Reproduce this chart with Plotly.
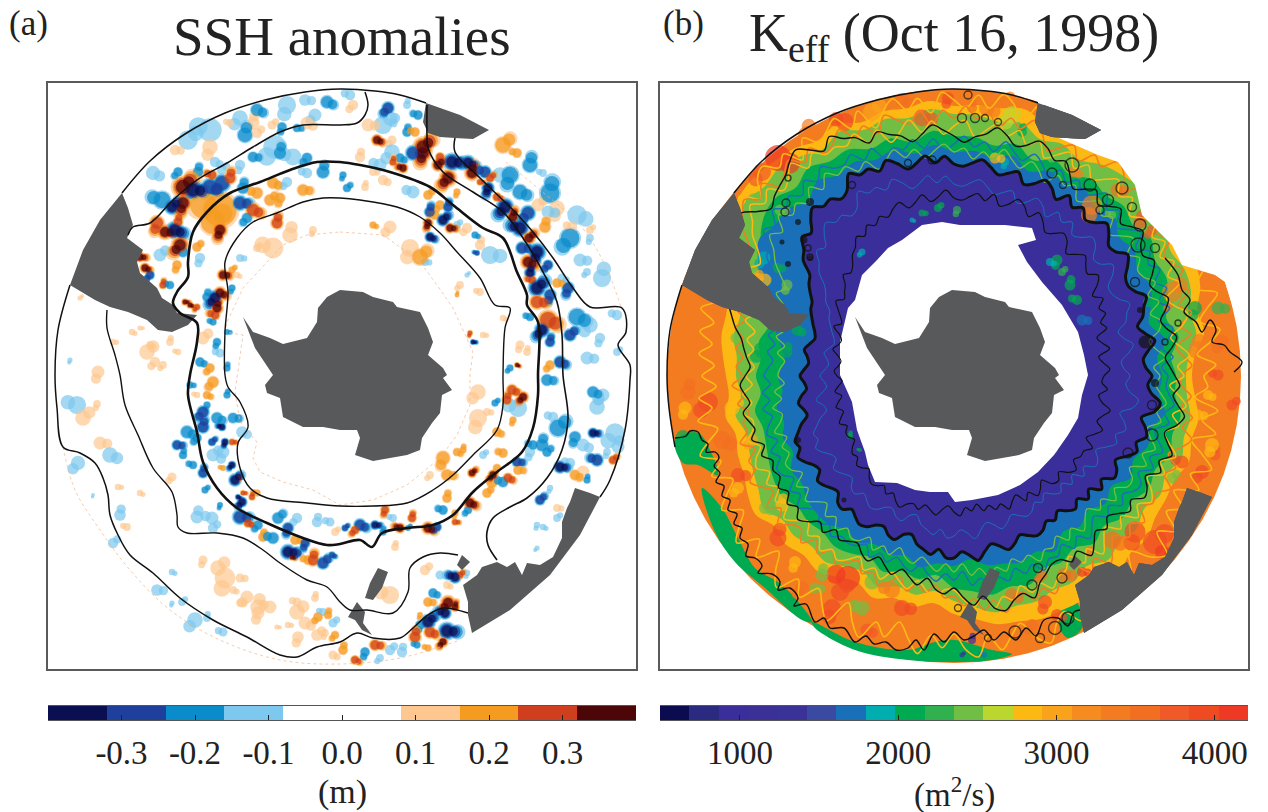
import math
import plotly.graph_objects as go

# ---------- map units: both panels share one x/y system (hidden axes) ----------
CX, CY = 342, 376

# ---------- colour scales ----------
SSH_EDGES = [-0.4, -0.32, -0.24, -0.16, -0.08, 0.0, 0.08, 0.16, 0.24, 0.32, 0.4]
SSH_COLORS = ["#0a0f52", "#1f3f9c", "#0a8ccb", "#7cc8ee", "#ffffff", "#ffffff", "#fdc78f", "#f59b1f", "#cf3f1e", "#4d0608"]
SSH_TICKS = [-0.3, -0.2, -0.1, 0.0, 0.1, 0.2, 0.3]
SSH_TICKTEXT = ["-0.3", "-0.2", "-0.1", "0.0", "0.1", "0.2", "0.3"]
SSH_LEVELS = [0.12, 0.20, 0.28, 0.36]
LAYER_SCALE = [1.0, 0.85, 0.72, 0.58]
LOBES = [(.45,.2),(-.35,.4),(.1,-.5),(-.5,-.15),(.4,-.35),(-.15,.5),(.55,.05)]

K_MIN, K_MAX = 495, 4210
K_COLORS = ["#0b0b4f", "#2a2a80", "#3a2f9a", "#3a3096", "#3a3296", "#3a4aa0", "#1a70b8", "#00aeb0", "#00aa50", "#30b04e",
            "#70bf44", "#bcd630", "#fdb913", "#f9a21b", "#f68b1f", "#f47c20", "#f26f21", "#f05a28", "#ef4b23", "#ee3a24"]
K_TICKS = [1000, 2000, 3000, 4000]

# ---------- coast / land outlines ----------
ANTARCTICA = [(243,317),(253,332),(270,338),(283,344),(307,338),(317,322),(318,308),(327,297),(340,290),(363,292),(373,297),
              (393,302),(397,307),(420,312),(428,328),(433,342),(428,355),(443,368),(447,375),(443,378),(452,390),(442,395),
              (440,413),(432,423),(422,438),(420,450),(407,455),(373,461),(355,455),(360,438),(357,430),(340,430),(323,427),
              (303,427),(283,417),(280,398),(267,393),(265,385),(273,375),(262,358),(255,348)]
LAND_WEST = [(122,193),(100,220),(83,250),(70,285),(95,300),(110,307),(128,312),(147,320),(158,330),(172,332),(188,325),
             (197,315),(177,313),(173,305),(162,298),(157,288),(140,273),(137,262),(143,250),(127,238),(133,225),(128,208)]
LAND_NORTH = [(426,103),(460,115),(489,130),(473,139),(455,138),(440,137),(428,133),(423,122)]
LAND_SE = [(472,633),(468,615),(468,602),(463,585),(477,575),(482,567),(497,562),(507,567),(515,562),(522,575),(527,563),
           (540,565),(553,557),(562,538),(562,522),(567,508),(570,502),(575,488),(590,493),(600,497),(580,535),(550,575),(510,610)]
ISLE_A = [(378,568),(388,572),(382,588),(373,600),(365,598),(370,583)]
ISLE_B = [(357,602),(365,612),(363,623),(372,635),(362,630),(355,620),(348,617)]
ISLE_C = [(462,555),(470,562),(462,570),(457,565)]
LANDS = [ANTARCTICA, LAND_WEST, LAND_NORTH, LAND_SE, ISLE_A, ISLE_B, ISLE_C]

# ---------- panel (a): SSH contours ----------
A_ARC = [(122,193),(150,161),(185,134),(225,113),(265,100),(305,92),(340,89),(375,91),(400,95),(426,103)]
A_OUTER = [(70,285),(58,330),(55,375),(57,408),(63,447),(80,453),(95,463),(103,478),(108,495),(110,515),(118,535),(130,555),
           (153,573),(180,598),(213,620),(247,637),(280,655),(297,657),(317,647),(340,642),(357,633),(373,638),(400,638),
           (413,628),(428,615),(443,608),(468,613)]
A_SECOND = [(107,310),(107,328),(115,355),(120,375),(125,405),(138,435),(153,468),(172,492),(177,515),(178,527),(187,533),
            (217,533),(243,538),(263,550),(280,563),(307,580),(327,587),(340,602),(350,610),(367,610),(393,613),(408,592),
            (410,568),(423,557),(440,553),(458,555)]
A_TOP = [(128,235),(133,227),(150,223),(173,200),(197,180),(227,163),(253,147),(280,132),(303,125),(340,125),(357,123),
         (365,115),(368,105),(365,92)]
A_RIGHT = [(455,138),(455,152),(480,178),(513,210),(533,232),(553,258),(573,288),(590,307),(622,308),(626,332),(618,345),
           (630,365),(630,380),(625,430),(610,480),(600,497)]
A_MIDDLE = [(427,105),(427,135),(428,148),(443,172),(473,192),(503,212),(523,238),(543,272),(557,302),(562,335),(563,375),
            (568,418),(562,450),(547,478),(527,498),(510,507),(493,518),(487,532),(488,545),(497,560)]
A_THICK = [(340,162),(317,162),(290,170),(260,182),(230,193),(207,212),(193,232),(188,262),(188,277),(177,292),(173,303),
           (180,313),(197,323),(197,342),(190,375),(188,395),(197,432),(203,462),(217,488),(237,508),(267,523),(303,538),
           (327,545),(340,544),(360,540),(372,547),(382,533),(407,528),(433,525),(453,515),(473,492),(497,472),(522,452),
           (533,428),(538,395),(538,375),(538,322),(527,305),(527,295),(517,272),(503,238),(483,228),(453,205),(430,187),
           (390,172),(360,165),(340,162)]
A_INNER = [(340,198),(360,200),(397,207),(420,217),(440,233),(457,252),(480,278),(495,305),(510,308),(505,328),(503,375),
           (503,405),(497,430),(473,455),(453,475),(433,490),(407,503),(373,506),(340,506),(307,503),(267,498),(250,488),
           (240,468),(238,443),(248,427),(240,402),(228,387),(225,375),(225,332),(228,292),(225,262),(237,238),(253,222),
           (277,213),(303,202),(323,198),(340,198)]
A_PEACH = [(340,232),(383,235),(397,245),(420,262),(437,285),(453,308),(473,352),(470,375),(470,405),(457,435),(440,458),
           (407,485),(373,500),(340,505),(313,490),(283,482),(260,472),(253,458),(257,442),(240,422),(235,392),(243,335),
           (225,332),(227,322),(243,288),(283,245),(307,235),(340,232)]
A_PEACH_RIM = [(63,447),(75,490),(100,530),(130,570),(170,610),(220,640),(280,660),(340,664),(400,658),(460,640)]
A_PEACH_RIM2 = [(506,162),(540,190),(580,225),(605,265),(622,310)]

# ---------- panel (a): SSH anomaly eddies: x, y, value (m), width ----------
SSH_EDDIES = [
 (257,110,-.24,11),(240,118,-.12,12),(245,135,-.2,13),(210,130,-.12,18),(188,140,-.12,15),(287,105,-.12,14),(305,100,-.12,9),
 (327,102,-.2,11),(315,115,-.12,10),(253,123,.12,10),(230,123,.12,6),(272,125,.12,7),(282,127,-.2,8),(297,128,-.2,7),(307,123,.12,10),
 (275,147,-.12,18),(280,153,-.2,11),(293,157,-.12,13),(257,133,.12,8),(210,147,.12,12),(175,150,.12,8),(153,173,-.12,11),(178,172,-.2,8),
 (198,172,-.24,9),(212,175,.3,9),(222,170,-.12,8),(240,165,-.12,8),(253,157,-.2,9),(215,162,-.12,8),(307,158,-.2,9),(323,172,-.2,11),(307,173,-.12,8),
 (183,187,.36,19),(183,203,.36,15),(193,190,-.36,17),(210,187,-.3,15),(222,183,-.3,15),(230,178,.3,11),(162,200,-.24,15),(172,207,-.36,13),
 (157,223,.3,13),(165,232,.36,13),(175,230,-.36,15),(180,245,.36,15),(178,222,.28,9),(220,210,.2,30),(213,222,.2,22),(220,230,.36,13),
 (240,203,-.28,13),(253,210,.3,13),(247,218,-.2,9),(277,223,.3,11),(257,193,.2,10),(270,200,.2,10),(280,198,.2,9),(303,190,.2,10),
 (273,183,.2,10),(287,182,-.12,8),(243,188,-.2,10),(183,252,-.24,9),(197,247,.2,8),(200,258,-.12,8),(140,257,.36,9),(145,268,.36,9),
 (150,275,-.3,8),(163,285,.28,7),(170,285,-.2,7),(160,255,-.12,10),(177,265,.2,8),(223,275,.36,10),(220,293,.36,11),(215,298,-.36,13),
 (217,308,.36,11),(215,315,.28,9),(232,270,.2,6),(232,288,-.2,6),(185,302,.36,6),(190,305,.36,6),(197,307,.3,6),(207,297,-.2,8),
 (213,322,-.2,6),(203,338,.12,10),(217,342,-.2,7),(227,332,-.2,5),(200,362,-.2,8),(210,368,.2,8),(227,368,-.2,6),(220,353,-.12,7),
 (147,352,.12,12),(98,372,.12,10),(113,342,.12,5),(132,332,.12,5),(155,362,.12,8),(170,342,.12,6),(178,352,.12,5),(80,298,.12,4),(70,360,-.12,4),
 (140,328,.12,4),(150,345,.12,6),(163,365,.12,6),(290,235,.12,12),(273,248,.12,16),(257,248,.12,6),(313,230,.12,6),(240,258,-.12,6),(237,275,.12,5),
 (388,108,-.28,11),(407,105,-.12,6),(418,115,-.2,8),(383,125,-.12,14),(395,118,-.12,8),(368,125,.12,10),(377,140,.36,10),(392,140,.12,7),
 (407,132,-.2,8),(415,132,.2,8),(423,147,.36,17),(423,153,.36,15),(413,153,-.28,13),(400,158,-.2,8),(392,152,-.12,12),(393,162,.28,7),
 (403,168,.36,9),(438,165,.36,11),(440,157,.28,8),(452,162,-.36,15),(468,163,-.36,13),(448,178,.36,15),(472,173,.36,13),(485,172,-.3,11),
 (490,178,.28,8),(488,188,-.36,11),(480,182,.3,6),(497,197,.3,8),(505,207,-.36,15),(513,217,.36,11),(520,228,-.36,15),(529,238,.36,11),
 (537,252,-.36,15),(522,248,-.28,11),(528,262,.36,13),(548,265,-.3,9),(530,273,-.36,10),(532,280,.28,8),(537,288,-.36,15),(550,295,-.3,11),
 (537,302,.28,13),(548,320,.28,17),(542,330,-.36,13),(550,342,-.3,9),(530,317,-.2,7),(570,335,-.28,11),(568,288,-.28,11),(557,283,.2,8),
 (577,317,-.2,15),(590,325,-.12,12),(530,165,-.2,13),(517,153,.2,8),(503,145,.2,14),(510,175,-.2,15),(500,175,-.12,12),(520,192,-.2,13),
 (528,213,-.28,13),(550,193,-.2,17),(543,173,-.12,6),(538,205,.12,10),(557,208,.12,12),(548,212,-.12,10),(577,215,-.12,15),(570,238,-.2,17),
 (545,227,.2,10),(572,227,.12,8),(590,230,.12,6),(590,238,-.12,6),(580,260,-.12,10),(562,278,-.12,7),(587,272,-.12,6),(602,278,-.12,14),
 (617,315,-.12,8),(617,352,-.12,6),(600,338,-.12,8),(587,358,-.12,10),(560,362,-.28,11),(550,365,.2,8),
 (430,212,-.28,10),(435,215,.2,8),(443,220,-.36,11),(428,223,.36,9),(450,228,.36,9),(430,237,-.36,9),(440,205,.2,8),(448,207,-.28,9),
 (413,192,-.12,10),(428,195,.2,8),(457,192,.2,6),(490,255,-.12,14),(475,235,-.2,6),(467,228,.12,8),(480,245,.12,8),(477,253,-.3,5),
 (420,257,.2,14),(410,248,.12,14),(425,262,-.12,6),(373,225,.2,6),(390,227,.12,10),(360,157,.12,8),(350,95,-.12,8),(347,188,-.2,7),
 (343,175,-.2,6),(373,172,.12,6),(383,180,.12,8),(353,105,.12,8),(365,187,.12,6),(380,165,-.12,10),(457,225,-.12,6),(470,333,.28,5),
 (473,342,-.36,5),(503,318,.12,5),(460,285,.12,6),(457,295,.2,4),(480,292,.12,6),(467,275,-.12,4),(520,345,.12,7),(483,335,.12,5),
 (517,365,.36,5),(510,368,-.2,6),(527,352,.12,6),
 (77,405,-.12,14),(83,418,.12,12),(97,404,.12,6),(100,443,.12,10),(110,455,-.12,12),(78,463,-.12,11),(120,515,-.12,9),(127,527,.12,6),
 (113,543,-.12,8),(93,495,-.12,3),(157,590,-.12,9),(172,572,-.12,5),(195,620,-.12,12),(207,618,-.12,6),(223,632,-.12,7),(182,602,-.12,6),
 (172,603,-.12,4),(118,487,.12,5),(140,493,.12,5),(172,477,.12,7),(197,517,-.12,10),(212,518,-.12,10),(213,528,-.12,8),(203,560,.12,7),
 (177,445,-.28,9),(187,432,-.2,11),(203,412,-.3,11),(203,427,-.28,11),(222,427,-.36,7),(212,442,-.28,7),(225,442,-.36,7),(233,418,-.2,9),
 (217,418,-.2,10),(197,438,-.2,8),(183,455,-.2,7),(193,465,-.24,7),(213,455,-.12,10),(223,452,-.12,10),(232,442,.28,6),(242,432,-.12,9),
 (232,465,-.36,7),(203,473,-.28,9),(223,468,.2,5),(235,480,-.36,11),(240,477,.28,5),(243,493,.28,5),(238,497,-.36,5),(242,502,-.36,9),
 (252,497,.28,6),(257,493,.2,6),(205,490,-.2,6),(220,505,-.2,5),(240,517,-.3,13),(248,523,.28,8),(258,525,-.2,8),(263,537,.2,8),
 (273,538,-.2,10),(278,518,-.2,10),(288,528,-.28,10),(288,552,-.36,13),(292,557,.36,6),(298,553,-.3,7),(313,560,.3,11),(308,560,.2,8),
 (323,563,-.3,11),(305,543,-.3,9),(295,540,.2,8),(332,555,-.28,6),(297,518,-.12,8),(317,522,-.12,8),(330,522,-.12,7),(335,532,.12,6),
 (207,405,-.2,6),(190,385,-.2,6),(207,395,.2,7),(213,382,.2,10),(227,395,-.2,6),(197,395,.12,5),
 (218,568,.12,12),(225,578,.12,16),(240,578,.12,7),(233,590,.12,6),(247,597,.12,10),(258,607,.12,12),(270,607,.12,10),(297,612,.12,12),
 (258,613,.12,10),(240,603,.12,6),(305,623,.12,10),(318,617,.2,8),(328,615,.2,7),(323,612,-.12,6),(317,635,.12,9),(298,637,.12,9),
 (288,625,.12,5),(333,655,.12,7),(335,635,.2,7),(315,598,.12,6),(297,602,.12,7),(333,623,-.12,7),(325,633,.12,6),(277,627,.12,4),
 (512,390,.28,10),(523,397,.36,10),(507,400,.28,9),(518,408,-.12,14),(495,403,-.2,6),(513,420,.2,6),(547,380,-.2,10),(593,392,-.2,10),
 (603,395,-.12,10),(597,407,-.12,12),(553,417,-.12,8),(558,428,-.2,15),(575,437,-.2,10),(593,433,-.36,9),(583,445,-.12,10),(615,433,-.12,15),
 (618,447,-.12,10),(597,460,-.28,11),(613,460,.3,8),(607,452,-.12,6),(560,467,-.36,11),(575,475,.2,9),(583,472,.12,10),(587,480,-.2,6),
 (570,463,-.12,8),(540,500,-.28,9),(550,488,-.12,5),(557,508,.12,6),(543,527,-.12,5),(537,548,-.12,4),(542,445,-.2,11),(533,445,-.2,8),
 (547,452,-.2,8),(530,452,-.12,8),(517,462,-.28,9),(508,478,.28,9),(493,475,.36,9),(492,482,.2,10),(503,482,-.2,9),(472,473,.36,8),
 (497,468,.2,7),(518,470,.2,8),(470,503,.36,11),(468,510,-.24,7),(447,498,.2,8),(443,510,-.2,8),(487,493,.2,8),(455,513,.2,6),(455,522,.28,6),
 (428,528,.36,11),(437,527,-.28,8),(412,518,.28,8),(400,528,.36,9),(408,528,-.2,5),(385,510,.28,8),(375,525,-.36,8),(360,525,-.3,11),
 (355,530,.28,8),(383,532,-.2,6),(393,518,-.12,6),(345,528,-.28,6),(443,458,.2,12),(447,475,.2,10),(457,452,.2,7),(430,475,.12,6),
 (463,450,.2,6),(503,453,.2,8),(483,455,-.12,6),(478,418,.12,14),(487,412,.12,6),(497,432,.2,8),(478,392,.12,12),(395,547,.12,6),
 (390,595,.12,14),(425,570,.12,8),(420,615,.2,5),(428,602,.2,8),(433,593,-.2,8),(448,603,.36,13),(455,607,.36,8),(445,613,-.36,11),
 (428,622,-.36,13),(420,625,-.2,8),(447,631,-.38,15),(430,632,.3,11),(443,642,.36,9),(415,637,.28,11),(455,577,-.36,11),(460,575,.3,7),
 (467,573,-.12,5),(440,575,-.12,7),(447,585,.12,6),(435,633,.12,6),(402,652,-.12,8),(417,645,-.2,6),(390,650,-.12,8),(365,652,-.2,8),
 (375,645,.28,10),(355,660,.28,8),(380,658,-.12,6),(343,650,.2,8),(428,648,.2,6),(557,518,-.12,6),(537,525,-.12,5),
]

# ---------- panel (b): K_eff band limits, radii at equal angles, anticlockwise from east ----------
R_TEAL = [208,204,214,202,210,216,212,220,216,226,220,228, 222,226,218,228,222,226,224,232,226,234,230,236,
          232,238,228,236,234,238,226,214,196,186,176,170, 176,172,180,176,182,178,188,186,192,194,194,188,
          192,186,190,186,194,188,190,184,192,194,198,194, 202,190,196,190,198,192,204,198,206,204,214,206]
R_GREEN = [222,218,228,220,228,234,232,240,234,240,236,240, 232,238,230,240,234,240,240,246,238,246,242,250,
           248,254,246,252,248,236,216,206,198,192,198,194, 198,194,202,198,200,204,208,210,204,206,204,208,
           205,200,208,202,206,200,212,216,222,218,222,212, 215,210,218,212,220,218,225,222,230,226,230,222]
R_LIME = [232,236,246,244,252,254,250,258,256,264,262,258, 250,256,252,262,258,262,262,268,262,266,262,270,
          262,268,272,268,272,262,250,240,226,222,224,218, 218,214,222,216,218,222,226,232,224,226,222,226,
          220,216,224,218,222,216,225,232,240,238,240,236, 238,232,240,234,238,232,238,234,242,238,240,234]
R_YELLOW = [238,242,254,252,262,266,262,270,272,276,278,272, 270,276,268,276,272,272,270,276,272,274,270,278,
            272,278,280,282,280,276,270,258,240,236,236,232, 228,226,232,226,230,232,238,242,234,238,234,238,
            232,228,236,230,234,228,238,244,252,254,258,258, 258,252,256,250,252,246,245,244,250,246,248,242]
R_RIM = [287]*72
R_THICK = [198,192,190,196,204,196,190,198,202,208,200,196, 198,206,212,204,202,210,216,208,204,212,206,214,
           204,212,216,208,204,214,210,206,212,218,214,210, 212,220,214,222,216,212,220,226,218,224,222,228,
           214,210,216,214,220,212,202,206,196,190,176,172, 166,160,158,154,150,146,144,148,152,148,146,150,
           154,150,148,154,158,154,152,160,166,172,170,176, 172,166,164,172,170,166,164,172,174,168,172,176,
           174,168,166,172,174,166,164,172,176,180,174,182, 182,176,180,186,178,172,176,182,178,172,176,180,
           178,172,176,170,176,180,174,182,176,186,180,190, 188,182,190,198,194,202,198,192,204,208,198,194]
R_MID = [221,216,212,220,226,218,214,222,228,220,216,224, 231,224,228,238,232,226,236,230,224,234,228,222,
         232,242,238,246,250,242,238,246,252,244,240,234, 240,246,252,244,238,246,250,256,248,258,262,270,
         260,268,276,270,262,258,254,248,256,268,272,264, 262,256,250,244,240,236,230,224,216,212,208,204,
         209,214,210,206,214,210,206,212,202,208,200,204, 201,208,202,210,204,212,206,198,204,194,200,196,
         193,200,204,196,202,208,200,206,212,204,214,218, 212,222,230,222,236,240,232,228,236,224,218,212,
         212,220,214,226,218,210,216,208,214,222,216,226, 223,216,228,222,232,224,218,228,234,226,220,226]
R_INNER = [150,156,150,146,158,152,148,160,156,164,160,168, 160,170,176,168,172,178,172,166,176,180,174,170,
           178,184,176,184,188,180,176,186,178,184,180,176, 178,186,180,176,184,178,174,182,178,172,176,170,
           174,166,170,162,158,150,146,150,142,138,134,140, 134,128,124,130,122,118,120,124,118,114,116,120,
           117,112,116,120,114,118,122,116,120,124,118,122, 122,118,124,128,126,132,130,126,132,136,134,130,
           136,132,138,142,136,134,138,132,136,140,134,130, 136,140,132,136,130,138,134,140,136,144,138,134,
           144,138,146,142,136,146,148,142,150,154,146,150, 150,156,146,152,158,150,154,160,150,146,154,148]
# filaments threaded through the bands
F_YELLOW_OUT = [250,262,244,258,270,252,262,276,256,268,282,262, 274,258,280,266,284,270,262,280,268,284,272,264,
                276,284,266,280,272,284,262,278,286,270,282,268, 276,284,264,280,270,284,274,260,282,268,284,276,
                270,282,264,280,272,284,278,262,280,272,284,270, 256,248,262,254,268,250,262,246,258,244,256,240,
                252,238,256,244,260,242,254,266,248,262,244,256, 268,250,262,274,254,268,248,264,276,256,270,252,
                264,276,250,266,278,258,270,252,266,280,260,272, 258,274,282,262,278,266,256,274,284,268,260,276,
                262,250,272,258,276,262,248,268,278,256,270,252, 264,248,270,256,274,260,246,268,252,266,242,254]
F_ORANGE_LIME = [226,238,230,224,240,232,246,236,250,240,252,244, 242,256,248,262,250,258,266,252,264,270,256,262,
                 248,260,252,244,258,268,256,264,252,266,258,270, 258,266,252,268,256,262,270,254,266,258,272,262,
                 258,270,260,272,264,258,272,262,274,266,258,244, 246,236,242,228,220,230,216,224,214,220,212,218,
                 212,222,210,218,208,216,214,224,212,222,220,230, 222,214,228,218,230,220,216,226,214,224,212,222,
                 216,208,218,212,222,216,208,220,212,218,210,222, 220,230,224,236,228,242,232,226,238,230,240,232,
                 236,226,240,230,244,234,226,238,230,240,228,236, 234,244,232,240,228,238,246,234,242,230,238,228]
F_YELLOW_LIME = [230,224,236,228,220,234,242,232,226,244,236,248, 238,250,242,254,246,238,252,244,256,248,240,250,
                 240,252,244,236,250,242,254,246,256,248,240,256, 250,242,256,246,260,250,242,258,248,262,254,258,
                 256,264,254,268,258,252,264,256,266,254,246,232, 224,232,218,226,212,208,216,204,210,202,208,200,
                 208,202,212,204,214,206,208,216,206,214,218,208, 216,208,218,210,222,214,206,216,210,220,212,218,
                 212,204,214,208,216,206,212,218,208,216,224,214, 214,224,232,222,236,226,232,220,230,224,234,226,
                 224,214,228,218,232,222,214,226,218,232,224,234, 228,218,232,224,236,226,218,230,222,234,226,216]
F_BLUE_GREEN = [214,208,220,210,218,224,212,226,218,230,222,232, 224,232,222,236,228,220,234,226,238,228,222,232,
                224,232,222,230,236,226,232,240,228,236,230,240, 232,226,238,230,240,232,236,228,242,234,244,238,
                240,248,238,246,236,244,238,246,234,240,226,222, 208,198,204,192,188,194,184,190,182,188,182,186,
                190,184,192,186,194,186,192,196,188,198,192,200, 198,190,200,194,204,196,190,200,194,202,196,198,
                196,190,200,192,198,190,196,200,192,200,206,198, 204,196,210,204,214,206,212,202,210,204,214,206,
                208,200,210,202,212,204,198,208,202,212,206,214, 216,208,220,212,222,214,208,220,214,222,216,212]
F_LIME_TEAL = [206,200,212,204,198,210,214,206,218,210,222,214, 212,220,212,226,218,210,224,218,228,220,214,226,
               220,226,214,222,228,218,224,232,220,226,218,228, 224,232,226,220,230,224,234,226,220,232,226,236,
               232,240,228,238,226,234,228,238,224,232,220,212, 200,190,196,184,180,186,176,182,172,178,170,174,
               176,170,180,174,184,176,180,188,178,186,182,190, 188,180,192,184,194,186,180,190,184,194,186,192,
               190,182,192,184,190,180,188,192,184,190,196,188, 196,188,200,194,204,196,202,192,198,194,204,196,
               198,190,200,192,202,194,188,198,192,204,196,206, 206,198,212,204,214,206,200,212,206,214,208,202]
F_TEAL_DARK = [176,170,168,176,182,174,170,180,184,190,182,178, 178,188,194,184,182,192,196,188,184,194,188,194,
               184,192,196,188,184,194,190,186,192,198,194,190, 192,200,194,202,196,192,200,206,198,204,202,208,
               194,190,196,194,200,192,182,186,176,170,158,152, 148,140,138,134,130,126,124,128,132,128,126,130,
               134,130,128,134,140,134,132,140,146,152,150,156, 152,146,144,152,150,146,144,152,154,148,152,156,
               154,148,146,152,154,146,144,152,156,160,154,162, 160,154,158,164,156,150,154,160,156,150,154,158,
               156,150,154,148,154,158,152,160,154,164,158,168, 166,160,168,176,172,180,176,170,182,186,176,172]
K_DARK, K_TEAL, K_GREEN, K_LIME, K_YELLOW, K_ORANGE = 1000, 1750, 2150, 2450, 2850, 3300

# panel (b): patches of higher and lower diffusivity: x, y, K, width
K_PATCHES = [
 (166,158,4100,26),(150,172,3800,18),(195,135,3400,18),(233,122,3900,18),(260,112,3000,18),(336,98,4000,12),(310,118,3700,17),(290,100,3500,14),
 (96,402,3900,20),(76,392,3500,15),(80,440,2150,18),(120,408,2900,15),(73,408,2800,13),(126,475,3900,14),(110,440,3600,18),(140,440,3000,12),
 (166,538,3900,17),(236,578,4100,24),(228,592,4000,18),(220,608,4000,18),(290,608,3900,16),(255,630,3700,13),(190,588,3500,14),(210,575,2500,13),
 (250,608,2500,15),(260,582,2400,15),(183,562,2850,12),(203,588,2500,11),(153,508,2500,12),(126,488,2850,12),(170,505,2850,13),(280,590,3300,16),
 (543,542,4000,24),(523,532,3900,21),(550,552,4100,14),(500,540,3600,18),(590,472,3900,14),(603,455,3700,11),(570,462,4000,13),(620,405,3900,11),
 (433,602,3900,14),(470,572,4100,10),(445,615,3900,12),(420,625,3600,12),(523,508,2500,12),(543,492,2450,11),(560,478,2500,11),(600,445,2850,14),
 (586,415,2850,11),(596,395,2850,10),(400,115,2600,18),(410,132,2150,10),(380,132,2500,13),(440,157,2450,11),(393,162,1800,8),(383,158,2850,11),
 (375,108,3300,16),(398,97,3400,11),(360,108,3600,10),(603,292,3400,16),(560,292,3400,20),(583,308,2150,14),(606,308,2200,13),(536,302,2150,10),
 (610,342,3500,14),(585,350,3300,18),(606,375,3900,11),(570,350,2500,10),(480,205,3400,20),(505,190,3500,13),(462,172,3400,11),(540,230,3700,11),
 (528,222,3700,13),(500,215,2400,8),(555,308,3500,8),(478,550,3300,8),(452,575,3500,14),(400,595,3500,14),(430,575,3500,11),(360,640,1000,8),
 (372,655,1750,6),(350,655,1000,5),(143,202,2450,18),(168,210,2500,11),(137,228,2450,11),(152,258,1800,13),(170,252,1750,14),(153,280,2900,13),
 (143,278,2950,11),(175,285,2500,11),(165,268,2150,10),(185,330,2150,11),(150,350,2150,16),(175,352,2150,11),(130,340,2500,13),
 (326,208,2150,8),(345,210,2200,8),(310,213,2000,7),(300,220,1800,5),(250,252,1800,7),(458,285,2150,11),(465,300,2150,10),(450,272,2200,8),
 (445,260,2000,11),(470,320,1750,11),(438,262,1800,8),(340,498,1400,4),(238,436,2150,6),(248,450,2000,4),(420,473,2150,5),(380,488,1800,5),(440,450,2150,6),
]
# black closed contours: x, y, width
K_LOOPS = [(440,173,10),(451,185,7),(460,165,14),(478,185,12),(496,200,11),(510,188,12),(520,207,9),(488,210,8),(528,225,12),(526,245,14),
           (543,248,9),(363,118,9),(373,118,7),(386,122,7),(356,95,8),(350,118,9),(566,323,6),(553,342,6),(443,628,13),(428,638,9),(403,632,12),
           (456,618,12),(450,578,10),(420,585,10),(426,568,9),(376,638,7),(346,608,7),(296,163,7),(320,160,8),(240,185,7),(196,248,6),(198,257,6),
           (540,405,9),(540,435,12),(516,453,10),(523,282,9),(176,178,6),(174,203,8),(173,212,8)]
K_SPOTS = [(198,202,8),(170,242,5),(186,222,6),(543,383,8),(533,342,13),(198,258,6),(176,264,6),(192,240,7),(528,310,6),(186,440,6),(232,500,5)]

B_OUTER = [(63,438),(74,436),(78,431),(86,432),(90,440),(96,444),(94,452),(103,452),(107,458),(102,466),(108,473),(104,482),(112,486),
           (110,496),(118,500),(116,510),(125,514),(122,524),(130,528),(128,538),(136,544),(134,556),(143,558),(150,566),(146,573),(160,574),
           (168,582),(166,590),(178,588),(186,598),(182,606),(194,604),(203,622),(212,618),(218,628),(232,628),(243,642),(254,636),(262,644),
           (274,642),(284,650),(296,648),(304,640),(312,650),(322,634),(332,642),(342,632),(352,640),(362,636),(372,630),(382,640),(392,632),
           (404,640),(414,628),(424,636),(432,620),(446,618),(456,626),(462,612),(468,610)]
B_NE = [(553,258),(566,275),(570,290),(578,300),(572,312),(584,322),(590,332),(598,320),(604,330),(600,342),(612,345),(618,352),(630,362),(622,372)]
SEA_ICE = [(310,225),(330,222),(348,225),(393,225),(420,228),(424,240),(406,245),(415,262),(430,282),(450,305),(466,332),(472,355),
           (476,375),(470,395),(466,418),(456,435),(442,455),(426,472),(408,485),(386,495),(360,500),(343,502),(336,492),(318,492),
           (303,490),(285,483),(263,482),(256,465),(253,452),(245,430),(240,402),(228,375),(228,342),(236,308),(243,300),(250,275),
           (265,260),(276,248),(290,240)]
NO_DATA_NE = [(426,103),(440,135),(486,155),(506,162),(523,185),(530,215),(560,245),(570,265),(603,275),(613,282),(626,325),(630,358),
              (632,376),(635,376),(635,85),(426,85)]
K_GREEN_FRINGE_1 = [(63,440),(86,433),(98,450),(106,475),(86,465),(71,463)]
K_GREEN_FRINGE_2 = [(90,488),(110,508),(126,538),(143,568),(166,582),(183,598),(200,622),(190,620),(153,588),(123,562),(103,532)]
K_GREEN_FRINGE_3 = [(200,622),(243,642),(296,650),(323,642),(343,640),(380,650),(400,654),(380,660),(343,662),(296,660),(243,650),(203,628)]
K_GREEN_FRINGE_4 = [(456,592),(468,608),(470,628),(456,638),(447,625)]

TITLE_A = "SSH anomalies"
TITLE_B = "K<sub>eff</sub> (Oct 16, 1998)"

# ---------- helpers ----------
W, H = 1268, 812
def px(x): return x / W
def py(y): return 1 - y / H
def xs(p): return [q[0] for q in p]
def ys(p): return [q[1] for q in p]
def closed(p): return list(p) + [p[0]]
def ring(radii):
    a = [2 * math.pi * i / len(radii) for i in range(len(radii))]
    return [(CX + r * math.cos(t), CY - r * math.sin(t)) for r, t in zip(radii, a)]
def kcolor(v):
    i = int((v - K_MIN) / (K_MAX - K_MIN) * len(K_COLORS))
    return K_COLORS[max(0, min(len(K_COLORS) - 1, i))]
def hard_scale(colors):
    n = len(colors)
    out = []
    for i, c in enumerate(colors):
        out += [[i / n, c], [(i + 1) / n, c]]
    return out
SERIF = "Liberation Serif, Times New Roman, serif"
FRAME = "#5a5a5a"
LAND = "#58595b"

fig = go.Figure()
axis = dict(visible=True, showgrid=False, zeroline=False, showticklabels=False, ticks="", showline=True,
            linecolor=FRAME, linewidth=2, mirror=True, range=[48, 636])
yaxis = dict(visible=True, showgrid=False, zeroline=False, showticklabels=False, ticks="", showline=True,
             linecolor=FRAME, linewidth=2, mirror=True, range=[669, 83])
fig.update_layout(
    width=W, height=H, margin=dict(l=0, r=0, t=0, b=0), autosize=False, paper_bgcolor="white", plot_bgcolor="white", showlegend=False,
    xaxis=dict(axis, domain=[px(48), px(636)], anchor="y"), yaxis=dict(yaxis, domain=[py(669), py(83)], anchor="x"),
    xaxis2=dict(axis, domain=[px(660), px(1248)], anchor="y2"), yaxis2=dict(yaxis, domain=[py(669), py(83)], anchor="x2"),
)

def poly(pts, color, ax, ay, spline=False):
    p = closed(pts)
    fig.add_trace(go.Scatter(x=xs(p), y=ys(p), mode="lines", fill="toself", fillcolor=color,
                             line=dict(width=0, color=color, shape="spline" if spline else "linear", smoothing=1.0),
                             hoverinfo="skip", xaxis=ax, yaxis=ay))
def line(pts, ax, ay, width=1.5, color="#111111", dash=None, spline=False):
    fig.add_trace(go.Scatter(x=xs(pts), y=ys(pts), mode="lines",
                             line=dict(width=width, color=color, dash=dash, shape="spline" if spline else "linear", smoothing=1.0),
                             hoverinfo="skip", xaxis=ax, yaxis=ay))

# ---------- panel (a) ----------
for i, lev in enumerate(SSH_LEVELS):
    X, Y, C, S = [], [], [], []
    for j, (x, y, v, d) in enumerate(SSH_EDDIES):
        n = sum(1 for l in SSH_LEVELS if abs(v) >= l - 0.04)
        if i < n:
            size = d * 1.3 * LAYER_SCALE[i]
            ox, oy = LOBES[j % len(LOBES)]
            X += [x, x + ox * size]; Y += [y, y + oy * size]
            C += [math.copysign(lev, v)] * 2; S += [size, size * 0.8]
    fig.add_trace(go.Scatter(x=X, y=Y, mode="markers", hoverinfo="skip",
                             marker=dict(color=C, size=S, cmin=-0.4, cmax=0.4, colorscale=hard_scale(SSH_COLORS), line=dict(width=0)),
                             xaxis="x", yaxis="y"))
line(A_PEACH, "x", "y", 0.7, "#f2b48c", "dot")
line(A_PEACH_RIM, "x", "y", 0.7, "#f2b48c", "dot", spline=True)
line(A_PEACH_RIM2, "x", "y", 0.7, "#f2b48c", "dot", spline=True)
for p in LANDS:
    poly(p, LAND, "x", "y")
line(A_ARC, "x", "y", 1.5, spline=True)
line(A_OUTER, "x", "y", 1.5, spline=True)
line(A_SECOND, "x", "y", 1.4, spline=True)
line(A_TOP, "x", "y", 1.5, spline=True)
line(A_RIGHT, "x", "y", 1.5, spline=True)
line(A_MIDDLE, "x", "y", 1.6, spline=True)
line(A_THICK, "x", "y", 2.6, spline=True)
line(A_INNER, "x", "y", 1.4, spline=True)

# ---------- panel (b) ----------
poly(ring(R_RIM), kcolor(K_ORANGE), "x2", "y2")
for p in (K_GREEN_FRINGE_1, K_GREEN_FRINGE_2, K_GREEN_FRINGE_3, K_GREEN_FRINGE_4):
    poly(p, kcolor(K_GREEN), "x2", "y2", spline=True)
for r, k in ((R_YELLOW, K_YELLOW), (R_LIME, K_LIME), (R_GREEN, K_GREEN), (R_TEAL, K_TEAL), (R_THICK, K_DARK)):
    poly(ring(r), kcolor(k), "x2", "y2", spline=True)
patch_x, patch_y, patch_k, patch_s = [], [], [], []
for j, (x, y, k, d) in enumerate(K_PATCHES):
    ox, oy = LOBES[j % len(LOBES)]
    patch_x += [x, x + ox * d]; patch_y += [y, y + oy * d]; patch_k += [k, k]; patch_s += [d, d * 0.8]
fig.add_trace(go.Scatter(x=patch_x, y=patch_y, mode="markers", hoverinfo="skip",
                         marker=dict(color=patch_k, size=patch_s, cmin=K_MIN, cmax=K_MAX,
                                     colorscale=hard_scale(K_COLORS), line=dict(width=0)), xaxis="x2", yaxis="y2"))
for r, k, w in ((F_YELLOW_OUT, K_YELLOW, 1.6), (F_ORANGE_LIME, K_ORANGE, 1.6), (F_YELLOW_LIME, K_YELLOW, 1.5),
                (F_BLUE_GREEN, K_TEAL, 1.5), (F_LIME_TEAL, K_LIME, 1.3), (F_TEAL_DARK, K_TEAL, 1)):
    line(closed(ring(r)), "x2", "y2", w, kcolor(k), spline=True)
poly(SEA_ICE, "#ffffff", "x2", "y2")
poly(NO_DATA_NE, "#ffffff", "x2", "y2")
for p in LANDS:
    poly(p, LAND, "x2", "y2")
line(A_ARC, "x2", "y2", 1.5, spline=True)
line(A_OUTER[:5], "x2", "y2", 1.5, spline=True)
line(B_OUTER, "x2", "y2", 1.4, spline=True)
line(B_NE, "x2", "y2", 1.4, spline=True)
line(closed(ring(R_MID)), "x2", "y2", 1.4, spline=True)
line(closed(ring(R_INNER)), "x2", "y2", 1.2, spline=True)
line(closed(ring(R_THICK)), "x2", "y2", 3, spline=True)
for p in LANDS[1:4]:
    poly(p, LAND, "x2", "y2")
poly(NO_DATA_NE[:2] + [(426,85)], "#ffffff", "x2", "y2")
poly(LAND_NORTH, LAND, "x2", "y2")
fig.add_trace(go.Scatter(x=[q[0] for q in K_LOOPS], y=[q[1] for q in K_LOOPS], mode="markers", hoverinfo="skip",
                         marker=dict(symbol="circle-open", color="#111111", size=[q[2] for q in K_LOOPS], line=dict(width=1.4, color="#111111")),
                         xaxis="x2", yaxis="y2"))
fig.add_trace(go.Scatter(x=[q[0] for q in K_SPOTS], y=[q[1] for q in K_SPOTS], mode="markers", hoverinfo="skip",
                         marker=dict(color="#111111", size=[q[2] for q in K_SPOTS], line=dict(width=0)), xaxis="x2", yaxis="y2"))

# ---------- colour bars ----------
bar_y = dict(domain=[py(720), py(706)], range=[0, 1], visible=False)
bar_x = dict(showgrid=False, zeroline=False, showline=True, linecolor="#555555", linewidth=1, mirror=True, ticks="inside", ticklen=5,
             tickcolor="#222222", tickwidth=1, tickfont=dict(family=SERIF, size=33, color="#222222"), ticklabelstandoff=3)
ssh_mid = [(a + b) / 2 for a, b in zip(SSH_EDGES[:-1], SSH_EDGES[1:])]
fig.add_trace(go.Heatmap(x=SSH_EDGES, y=[0, 1], z=[ssh_mid], zmin=-0.4, zmax=0.4, colorscale=hard_scale(SSH_COLORS), showscale=False,
                         hoverinfo="skip", xaxis="x3", yaxis="y3"))
k_edges = [K_MIN + (K_MAX - K_MIN) * i / len(K_COLORS) for i in range(len(K_COLORS) + 1)]
k_mid = [(a + b) / 2 for a, b in zip(k_edges[:-1], k_edges[1:])]
fig.add_trace(go.Heatmap(x=k_edges, y=[0, 1], z=[k_mid], zmin=K_MIN, zmax=K_MAX, colorscale=hard_scale(K_COLORS), showscale=False,
                         hoverinfo="skip", xaxis="x4", yaxis="y4"))
fig.update_layout(
    xaxis3=dict(bar_x, domain=[px(48), px(636)], range=[-0.4, 0.4], tickvals=SSH_TICKS, ticktext=SSH_TICKTEXT, anchor="y3"),
    yaxis3=dict(bar_y, anchor="x3"),
    xaxis4=dict(bar_x, domain=[px(660), px(1248)], range=[K_MIN, K_MAX], tickvals=K_TICKS, ticktext=[str(t) for t in K_TICKS], anchor="y4"),
    yaxis4=dict(bar_y, anchor="x4"),
)

# ---------- text ----------
def label(x, y, text, size, anchor="center"):
    fig.add_annotation(x=px(x), y=py(y), xref="paper", yref="paper", text=text, showarrow=False, xanchor=anchor, yanchor="middle",
                       font=dict(family=SERIF, size=size, color="#222222"))
label(7, 23, "(a)", 35, "left")
label(661, 23, "(b)", 35, "left")
label(342, 37, TITLE_A, 55)
label(954, 37, TITLE_B, 54)
label(342, 792, "(m)", 34)
label(954, 792, "(m<sup>2</sup>/s)", 33)

fig.write_html("out.html", config={"displayModeBar": False}, post_script="document.body.style.margin='0';")
